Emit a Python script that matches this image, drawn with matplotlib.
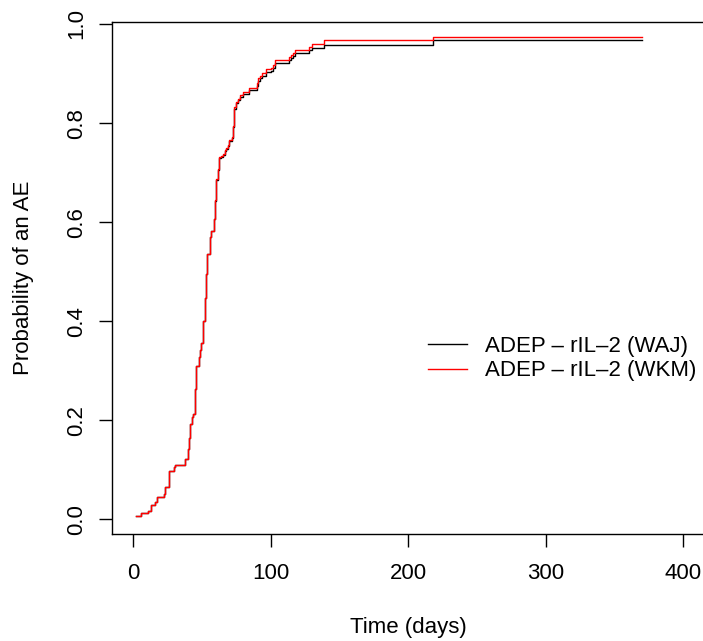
import numpy as np
import matplotlib
matplotlib.use("Agg")
import matplotlib.pyplot as plt

plt.rcParams['font.family'] = ['Liberation Sans', 'DejaVu Sans']

# step times (days) where the cumulative AE probability jumps
times = [2, 5.5, 10.5, 13, 15.5, 17.5, 22, 23, 26, 29.5,
         30.5, 38, 39.5, 40.5, 41.5, 42.5, 43.5, 45, 46, 47.5,
         48.5, 49.5, 50.5, 51, 52, 53, 54, 55.5, 56.5, 58.5,
         59.5, 60.5, 61.5, 62.5, 64, 65, 66.5, 67.5, 69, 70,
         71.5, 72.5, 73.5, 75, 76.5, 78, 79.5, 84, 90, 91,
         92, 93.5, 96.5, 100, 102, 103.5, 113, 115, 116.5, 118,
         128, 130, 139, 218]
t_end = 370

prob_wkm = [0.006, 0.012, 0.018, 0.030, 0.035, 0.045, 0.052, 0.065, 0.097, 0.106,
            0.110, 0.122, 0.143, 0.164, 0.192, 0.206, 0.213, 0.264, 0.309, 0.328,
            0.341, 0.356, 0.382, 0.400, 0.446, 0.496, 0.536, 0.570, 0.583, 0.607,
            0.644, 0.688, 0.708, 0.731, 0.734, 0.738, 0.745, 0.749, 0.755, 0.765,
            0.772, 0.795, 0.832, 0.843, 0.849, 0.856, 0.863, 0.870, 0.880, 0.890,
            0.895, 0.901, 0.909, 0.911, 0.917, 0.928, 0.933, 0.938, 0.941, 0.948,
            0.954, 0.959, 0.967, 0.974]

prob_waj = [0.006, 0.012, 0.018, 0.030, 0.035, 0.045, 0.052, 0.065, 0.097, 0.106,
            0.110, 0.122, 0.143, 0.164, 0.192, 0.206, 0.213, 0.264, 0.309, 0.328,
            0.341, 0.356, 0.382, 0.400, 0.446, 0.496, 0.536, 0.570, 0.583, 0.607,
            0.643, 0.686, 0.706, 0.729, 0.732, 0.736, 0.743, 0.747, 0.753, 0.763,
            0.769, 0.792, 0.829, 0.840, 0.846, 0.852, 0.859, 0.866, 0.875, 0.885,
            0.890, 0.896, 0.904, 0.906, 0.911, 0.922, 0.927, 0.932, 0.935, 0.942,
            0.947, 0.952, 0.957, 0.967]

labels = ["ADEP \u2013 rIL\u20132 (WAJ)", "ADEP \u2013 rIL\u20132 (WKM)"]

fs = 16
W, H = 703, 641
fig = plt.figure(figsize=(W / 100, H / 100), dpi=100)
ax = fig.add_axes([111.7 / W, 1 - 534.3 / H, (704.9 - 111.7) / W, (534.3 - 21.7) / H])

x = times + [t_end]
ax.plot(x, prob_waj + [prob_waj[-1]], drawstyle='steps-post', color='black', lw=1.0, label=labels[0])
ax.plot(x, prob_wkm + [prob_wkm[-1]], drawstyle='steps-post', color='#FF0000', lw=1.0, label=labels[1])

ax.set_xlim(-15.7, 416)
ax.set_ylim(-0.030, 1.0046)
ax.set_xticks([0, 100, 200, 300, 400])
ax.set_yticks([0.0, 0.2, 0.4, 0.6, 0.8, 1.0])
ax.set_yticklabels(["0.0", "0.2", "0.4", "0.6", "0.8", "1.0"], rotation=90, va='center')
ax.tick_params(axis='both', direction='out', length=9.6, width=1.0, labelsize=fs)
ax.tick_params(axis='x', pad=11)
ax.tick_params(axis='y', pad=8)
for s in ax.spines.values():
    s.set_linewidth(1.0)

ax.set_xlabel("Time (days)", fontsize=fs, labelpad=24)
ax.set_ylabel("Probability of an AE", fontsize=fs, labelpad=23)

fig.legend(loc='upper left', bbox_to_anchor=(428.3 / W, 1 - 336 / H), frameon=False,
           fontsize=fs, handlelength=1.75, handletextpad=0.8, labelspacing=0.15,
           borderpad=0, borderaxespad=0)

fig.savefig("out.png", dpi=100)
